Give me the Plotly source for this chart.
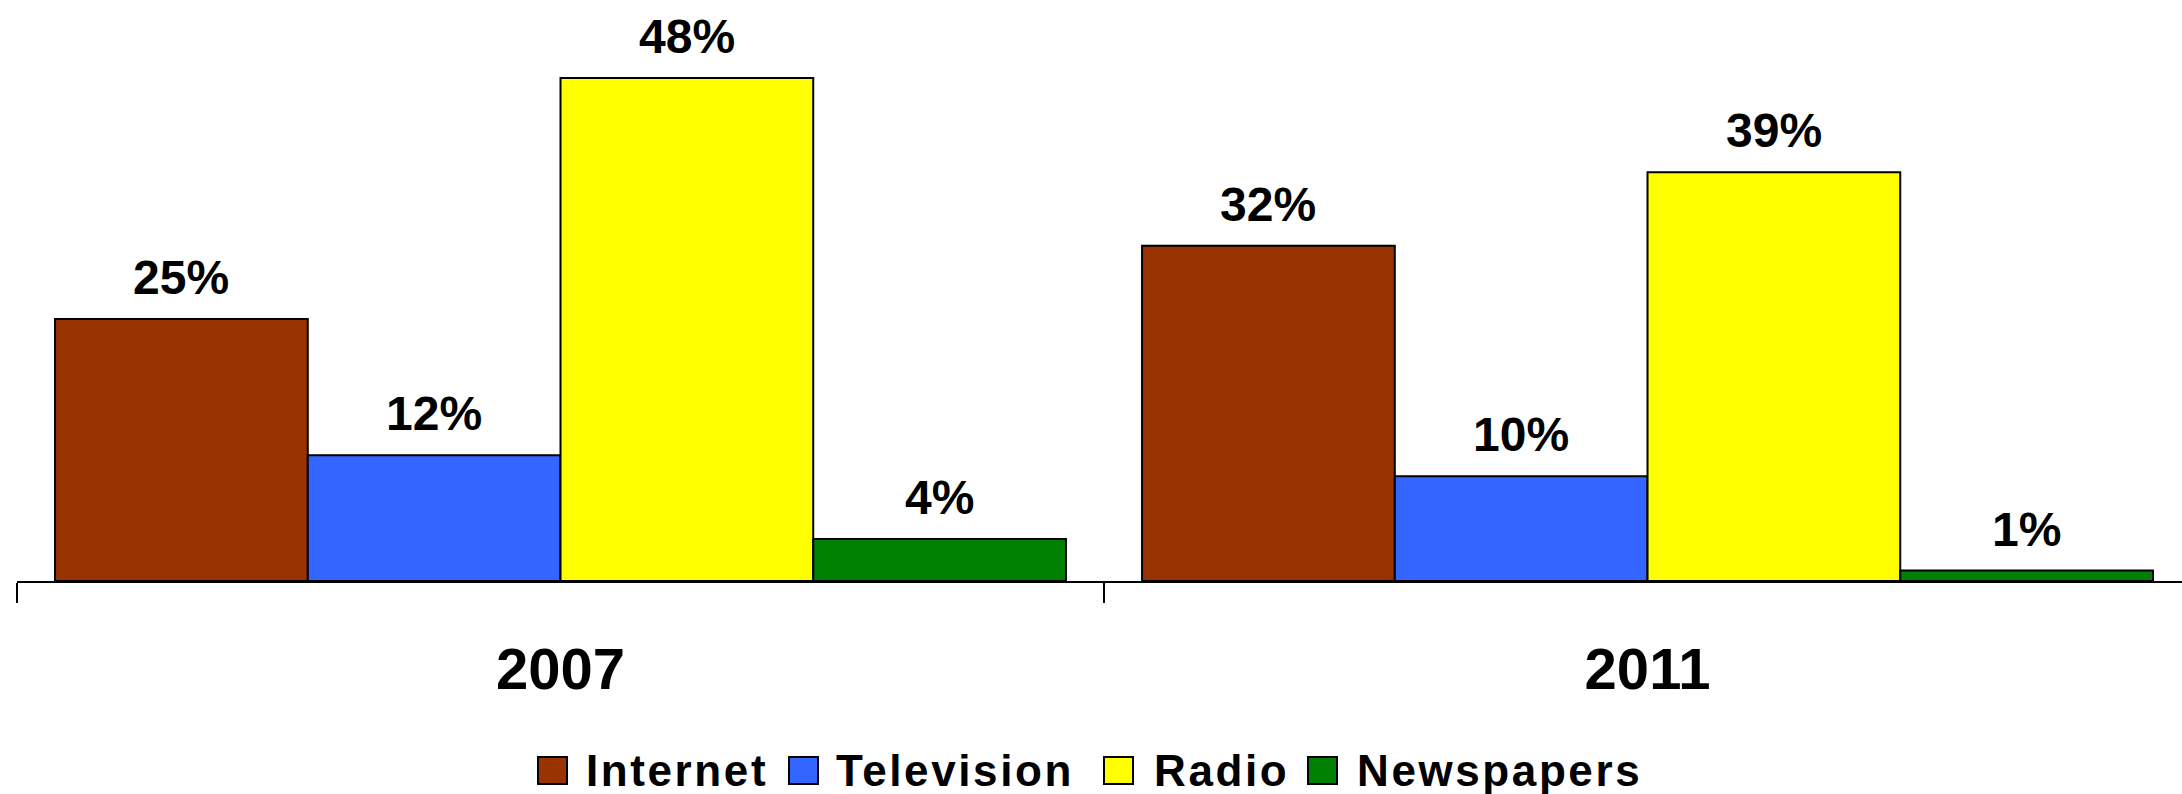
import plotly.graph_objects as go

# Survey data: share of respondents by main news source
years = ["2007", "2011"]
series = ["Internet", "Television", "Radio", "Newspapers"]
internet = [25, 32]
television = [12, 10]
radio = [48, 39]
newspapers = [4, 1]
values = [internet, television, radio, newspapers]
colors = ["#993300", "#3366FF", "#FFFF00", "#008000"]

W, H = 2182, 794
ML, MR, MT, MB = 17, 0, 0, 213
BARGAP = 0.07
FONT = "Arial, Liberation Sans, sans-serif"

fig = go.Figure()
for name, vals, col in zip(series, values, colors):
    fig.add_trace(go.Bar(
        x=years, y=vals, name=name,
        marker=dict(color=col, line=dict(color="black", width=2)),
        showlegend=False,
    ))

# value labels above each bar, placed at the bar's centre in category units
n = len(series)
bar_w = (1 - BARGAP) / n
annotations = []
for k, vals in enumerate(values):
    for i, v in enumerate(vals):
        annotations.append(dict(
            x=i + (k - (n - 1) / 2) * bar_w, y=v, xref="x", yref="y",
            text=f"{v}%", showarrow=False, yanchor="bottom", yshift=13,
            font=dict(family=FONT, size=48, color="black", weight="bold"),
        ))

# custom legend row beneath the axis
plot_w = W - ML - MR
plot_h = H - MT - MB


def px_x(px):
    return (px - ML) / plot_w


def px_y(py):
    return (H - MB - py) / plot_h


legend_boxes = [538, 789, 1104, 1308]
legend_text_x = [584, 834, 1152, 1355]
shapes = []
for name, col, bx, tx in zip(series, colors, legend_boxes, legend_text_x):
    shapes.append(dict(
        type="rect", xref="paper", yref="paper",
        x0=px_x(bx), x1=px_x(bx + 29), y0=px_y(784), y1=px_y(757),
        fillcolor=col, line=dict(color="black", width=2),
    ))
    annotations.append(dict(
        x=px_x(tx), y=px_y(770), xref="paper", yref="paper",
        text=f'<span style="letter-spacing:2.6px">{name}</span>',
        showarrow=False, xanchor="left", yanchor="middle",
        font=dict(family=FONT, size=44, color="black", weight="bold"),
    ))

fig.update_layout(
    width=W, height=H,
    margin=dict(l=ML, r=MR, t=MT, b=MB),
    paper_bgcolor="white", plot_bgcolor="white",
    barmode="group", bargap=BARGAP,
    showlegend=False,
    annotations=annotations,
    shapes=shapes,
    xaxis=dict(
        type="category",
        range=[-0.5, 1.4917],
        showline=True, linecolor="black", linewidth=2,
        ticks="outside", tickson="boundaries", ticklen=20,
        tickwidth=2, tickcolor="black",
        ticklabelstandoff=36,
        tickfont=dict(family=FONT, size=58, color="black", weight="bold"),
        showgrid=False, zeroline=False, fixedrange=True,
    ),
    yaxis=dict(
        visible=False, range=[0, 55.44], showgrid=False,
        zeroline=False, fixedrange=True,
    ),
)

fig.write_html("out.html")
